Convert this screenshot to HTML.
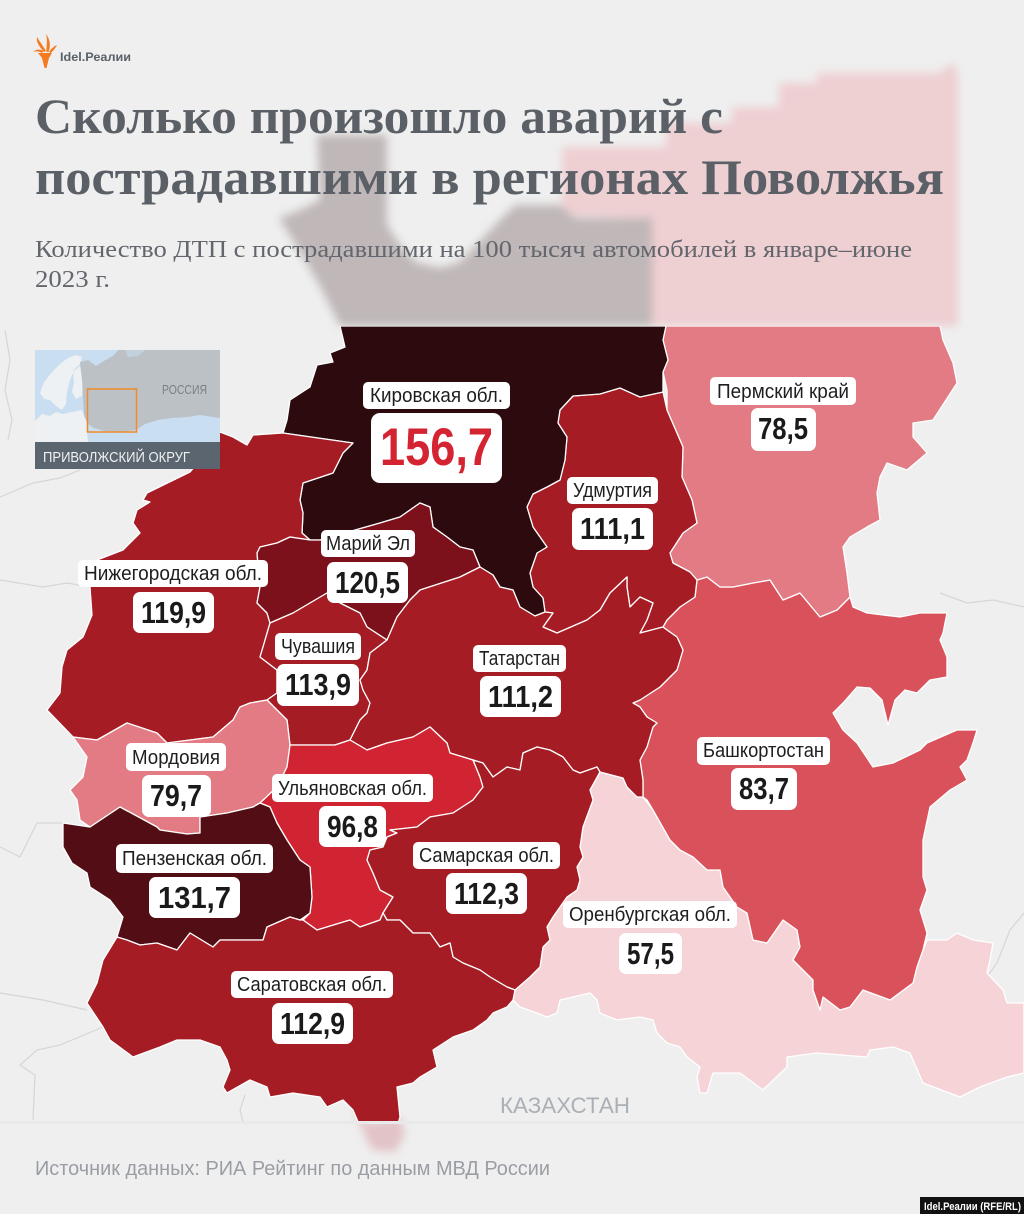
<!DOCTYPE html>
<html><head><meta charset="utf-8">
<style>
html,body{margin:0;padding:0;background:#efefef;}
svg{display:block;}
.nm{font-family:"Liberation Sans","DejaVu Sans",sans-serif;font-size:20px;fill:#1e1e1e;}
.vl{font-family:"Liberation Sans","DejaVu Sans",sans-serif;font-size:31px;font-weight:bold;fill:#1a1a1a;}
</style></head>
<body>
<svg width="1024" height="1214" viewBox="0 0 1024 1214" xmlns="http://www.w3.org/2000/svg">
<defs>
  <filter id="blur" x="-10%" y="-10%" width="120%" height="120%"><feGaussianBlur stdDeviation="4.5"/></filter>
  <clipPath id="mapclip"><rect x="0" y="326" width="1024" height="797"/></clipPath>
  <clipPath id="insetclip"><rect x="35" y="350" width="185" height="92"/></clipPath>
</defs>
<rect x="0" y="0" width="1024" height="1214" fill="#efefef"/>

<!-- ghost shapes top -->
<g filter="url(#blur)">
  <polygon fill="#eecfd2" points="562,147 666,147 666,123 732,123 732,107 779,107 779,83 817,83 817,73 939,73 953,62 958,75 958,326 652,326 652,218 562,215"/>
  <polygon fill="#bfb7b8" points="317,135 387,135 387,225 400,245 415,262 440,268 460,262 500,220 515,205 560,205 575,218 652,218 652,326 340,326 322,290 305,260 279,218 300,210 320,200"/>
  <polygon fill="#e2c3c6" points="353,1110 370,1123 400,1117 405,1135 395,1152 372,1150"/>
</g>

<!-- neighbour borders -->
<g fill="none" stroke="#d6d6d6" stroke-width="1.2">
  <polyline points="5,330 10,360 5,390 12,420 8,440"/>
  <polyline points="0,497 33,483 60,478 80,470"/>
  <polyline points="0,580 43,587 67,583 90,587"/>
  <polyline points="0,847 20,857 37,823 63,823"/>
  <polyline points="0,993 43,1000 87,1010"/>
  <polyline points="33,1120 35,1075 20,1065 37,1050 60,1045 103,1027"/>
  <polyline points="940,593 967,603 993,600 1024,607"/>
  <polyline points="1024,913 1010,930 997,963 987,977"/>
  <polyline points="245,1095 240,1110 243,1122"/>
</g>

<!-- map -->
<g clip-path="url(#mapclip)" stroke="#ffffff" stroke-width="1.3" stroke-linejoin="round">
  <!-- Orenburg -->
  <polygon fill="#f5d3d6" points="600,772 623,778 627,787 637,797 643,797 653,810 670,840 680,850 693,857 707,870 720,870 723,887 737,907 747,913 753,940 767,943 783,920 797,930 800,947 793,960 800,967 813,980 813,990 820,1010 823,997 840,1010 850,1007 863,990 890,1000 913,983 917,967 923,950 927,940 947,940 957,933 973,940 993,943 990,960 987,973 1003,990 1007,1003 1024,1003 1024,1073 1007,1077 980,1087 960,1097 923,1083 910,1053 893,1047 870,1050 867,1057 817,1053 787,1057 787,1067 763,1090 740,1073 713,1073 707,1093 700,1093 697,1077 700,1067 687,1057 680,1047 667,1043 657,1033 653,1020 640,1017 617,1020 600,1013 597,1000 590,993 560,1000 557,1013 547,1017 537,1013 520,1007 513,1000 515,990 530,977 540,967 543,947 550,940 547,927 553,917 567,897 577,890 580,880 577,867 583,857 580,847 583,827 593,800 590,790"/>
  <!-- Bashkortostan -->
  <polygon fill="#d9515a" points="697,580 707,577 720,587 733,587 753,583 770,580 783,600 800,593 820,617 837,610 850,597 853,607 867,613 900,617 920,613 947,613 943,633 940,640 947,657 947,677 930,680 917,693 905,690 895,700 888,725 882,700 870,688 857,687 843,703 833,713 843,730 857,743 873,767 893,763 920,750 927,743 957,730 977,730 973,743 967,760 960,767 967,780 950,790 930,807 923,840 923,877 927,890 920,910 927,933 923,950 917,967 913,983 890,1000 863,990 850,1007 840,1010 823,997 820,1010 813,990 813,980 800,967 793,960 800,947 797,930 783,920 767,943 753,940 747,913 737,907 723,887 720,870 707,870 693,857 680,850 670,840 653,810 647,800 643,797 643,780 640,760 647,747 653,727 657,723 647,717 640,707 633,703 640,700 660,687 677,670 683,650 677,637 667,630 663,627 667,620 680,607 695,597"/>
  <!-- Perm -->
  <polygon fill="#e27b83" points="666,326 940,326 943,340 953,363 957,383 933,420 913,423 913,437 927,453 907,470 887,463 880,477 877,493 880,520 867,527 850,537 843,547 847,573 850,597 837,610 820,617 800,593 783,600 770,580 753,583 733,587 720,587 707,577 697,580 690,572 673,563 670,553 683,533 697,523 692,500 682,477 683,447 667,410 667,390 663,372 668,360 663,340"/>
  <!-- Udmurtia -->
  <polygon fill="#a51c24" points="663,392 667,410 683,447 682,477 692,500 697,523 683,533 670,553 673,563 690,572 697,580 695,597 680,607 667,620 663,627 640,633 647,620 653,603 640,597 630,607 627,587 627,577 610,593 600,610 587,620 557,633 543,627 553,613 545,612 543,598 533,587 530,573 537,553 547,547 533,527 527,507 533,494 547,487 560,480 565,460 567,437 558,423 560,410 573,396 600,394 620,388 640,397"/>
  <!-- Kirov -->
  <polygon fill="#2c0a0d" points="340,326 666,326 663,340 668,360 663,372 663,392 640,397 620,388 600,394 573,396 560,410 558,423 567,437 565,460 560,480 547,487 533,494 527,507 533,527 547,547 537,553 530,573 533,587 543,598 545,612 535,616 520,607 513,590 500,587 493,575 480,567 473,550 460,547 447,537 433,527 430,507 420,503 400,517 380,523 320,540 310,540 302,533 303,513 300,500 303,483 333,473 343,453 353,443 283,433 287,420 290,400 310,387 317,365 333,362 330,353 345,347"/>
  <!-- Nizhny -->
  <polygon fill="#a51c24" points="47,710 60,693 62,667 67,650 83,637 92,615 90,587 97,560 123,550 140,533 133,523 137,510 150,502 143,500 147,493 190,472 205,455 220,432 233,437 247,445 253,435 283,433 353,443 343,453 333,473 303,483 300,500 303,513 302,533 310,540 290,537 277,543 260,547 257,553 260,587 257,603 267,613 270,623 263,647 260,657 277,670 277,693 267,700 250,703 240,707 233,720 213,737 167,743 157,733 127,723 97,740 73,737"/>
  <!-- Mari El -->
  <polygon fill="#7d111b" points="310,540 320,540 380,523 400,517 420,503 430,507 433,527 447,537 460,547 473,550 480,567 460,577 420,590 410,600 397,617 387,640 367,627 360,613 340,603 327,593 310,603 293,613 270,623 267,613 257,603 260,587 257,553 260,547 277,543 290,537"/>
  <!-- Chuvashia -->
  <polygon fill="#a51c24" points="270,623 293,613 310,603 327,593 340,603 360,613 367,627 387,640 370,653 367,670 360,680 363,690 370,703 367,713 360,720 350,740 335,745 310,745 290,745 287,720 267,700 277,693 277,670 260,657 263,647"/>
  <!-- Tatarstan -->
  <polygon fill="#a51c24" points="480,567 493,575 500,587 513,590 520,607 535,616 545,612 553,613 543,627 557,633 587,620 600,610 610,593 627,577 627,587 630,607 640,597 653,603 647,620 640,633 663,627 667,630 677,637 683,650 677,670 660,687 640,700 633,703 640,707 647,717 657,723 653,727 647,747 640,760 643,780 643,797 637,797 627,787 623,778 600,772 597,767 580,773 573,770 563,757 550,750 537,747 523,753 520,770 507,767 493,777 483,763 473,760 450,753 447,743 430,727 413,737 387,743 367,750 350,740 360,720 367,713 370,703 363,690 360,680 367,670 370,653 387,640 397,617 410,600 420,590 460,577"/>
  <!-- Mordovia -->
  <polygon fill="#e27b83" points="73,737 97,740 127,723 157,733 167,743 213,737 233,720 240,707 250,703 267,700 287,720 290,745 287,767 277,787 260,803 253,807 227,813 200,817 200,833 187,834 160,830 157,827 120,807 90,827 80,820 77,800 70,790 83,777 87,757"/>
  <!-- Ulyanovsk -->
  <polygon fill="#d02432" points="290,745 310,745 335,745 350,740 367,750 387,743 413,737 430,727 447,743 450,753 473,760 480,777 483,787 473,800 453,813 430,817 417,827 390,830 397,833 387,837 383,847 370,850 367,860 373,873 380,890 393,897 383,913 380,920 360,927 350,920 340,923 317,930 303,920 310,913 312,897 310,867 300,860 287,840 277,823 270,807 260,803 277,787 287,767"/>
  <!-- Penza -->
  <polygon fill="#530d14" points="63,823 90,827 120,807 157,827 160,830 187,834 200,833 200,817 227,813 253,807 260,803 270,807 277,823 287,840 300,860 310,867 312,897 310,913 300,920 290,917 267,927 263,940 220,940 213,947 190,933 177,950 157,943 140,945 127,940 117,937 123,917 110,900 90,887 87,873 72,863 63,847"/>
  <!-- Samara -->
  <polygon fill="#a51c24" points="473,760 483,763 493,777 507,767 520,770 523,753 537,747 550,750 563,757 573,770 580,773 597,767 600,772 590,790 593,800 583,827 580,847 583,857 577,867 580,880 577,890 567,897 553,917 547,927 550,940 543,947 540,967 530,977 515,990 507,987 490,977 480,970 463,963 453,957 450,943 440,947 430,933 413,933 400,920 387,920 383,913 393,897 380,890 373,873 367,860 370,850 383,847 387,837 397,833 390,830 417,827 430,817 453,813 473,800 483,787 480,777"/>
  <!-- Saratov -->
  <polygon fill="#a51c24" points="117,937 127,940 140,945 157,943 177,950 190,933 213,947 220,940 263,940 267,927 290,917 300,920 303,920 317,930 340,923 350,920 360,927 380,920 383,913 387,920 400,920 413,933 430,933 440,947 450,943 453,957 463,963 480,970 490,977 507,987 515,990 513,1000 507,1007 493,1013 487,1020 473,1030 453,1037 433,1050 437,1067 420,1077 413,1083 397,1087 400,1117 390,1150 370,1150 353,1110 343,1100 327,1107 320,1097 293,1093 270,1097 267,1087 250,1080 227,1093 223,1087 230,1070 227,1060 220,1047 200,1040 177,1040 160,1047 133,1057 110,1040 103,1027 87,1003 97,983 103,960"/>
</g>

<!-- Inset map -->
<g clip-path="url(#insetclip)">
  <rect x="35" y="350" width="185" height="92" fill="#c9def0"/>
  <!-- Europe mainland -->
  <polygon fill="#eef1f3" points="35,421 42,414 50,416 56,412 63,414 72,412 82,410 86,420 88,442 35,442"/>
  <!-- Scandinavia -->
  <polygon fill="#eef1f3" points="40,393 44,382 52,372 60,364 68,358 76,355 82,357 80,364 74,370 70,380 67,392 66,404 62,410 56,406 50,400 44,399"/>
  <!-- Finland -->
  <polygon fill="#eef1f3" points="73,372 80,366 83,380 82,396 76,399 72,392 74,383"/>
  <!-- Russia -->
  <polygon fill="#bcc1c5" points="80,362 88,360 96,366 104,361 110,356 115,352 117,350 220,350 220,418 200,415 188,417 172,418 158,420 145,424 136,430 120,432 104,431 94,428 88,424 84,416 83,398 82,380"/>
  <!-- Barents -->
  <polygon fill="#c9def0" points="100,350 118,350 114,355 106,360 100,358"/>
  <polygon fill="#c3d1dd" points="125,350 145,350 138,356 128,357"/>
  <rect x="87.5" y="389" width="49" height="43" fill="none" stroke="#f08a2a" stroke-width="1.5"/>
  <text x="162" y="394" font-family="Liberation Sans, DejaVu Sans, sans-serif" font-size="12.5" fill="#7b8087" textLength="45" lengthAdjust="spacingAndGlyphs">РОССИЯ</text>
</g>
<rect x="35" y="442" width="185" height="27" fill="#5a6570"/>
<text x="43" y="462" font-family="Liberation Sans, DejaVu Sans, sans-serif" font-size="14.5" fill="#eef0f2" textLength="147" lengthAdjust="spacingAndGlyphs">ПРИВОЛЖСКИЙ ОКРУГ</text>

<!-- Logo -->
<g fill="#f47b20">
  <path d="M38,53 L52,53 L49,58 L46.5,68 L44.5,68 L42,58 Z"/>
  <path d="M44,52 C40,47 36,43 37,37 C40,42 43,46 46,51 Z"/>
  <path d="M46.5,52 C46,46 48,41 46,34 C50,39 51,46 48.5,52 Z"/>
  <path d="M49,52 C51,49 54,46 57,45 C55,49 53,51 50.5,53 Z"/>
  <path d="M42,53 C39,51 36,51 33,52 C36,49 40,49 43.5,51 Z"/>
</g>
<text x="60" y="61" font-family="Liberation Sans, DejaVu Sans, sans-serif" font-size="12" font-weight="bold" fill="#5a6068" textLength="71" lengthAdjust="spacingAndGlyphs">Idel.Реалии</text>

<!-- Title -->
<g font-family="Liberation Serif, DejaVu Serif, serif" fill="#5b6067">
  <text x="35" y="133" font-size="50" font-weight="bold" textLength="688" lengthAdjust="spacingAndGlyphs">Сколько произошло аварий с</text>
  <text x="35" y="194" font-size="50" font-weight="bold" textLength="909" lengthAdjust="spacingAndGlyphs">пострадавшими в регионах Поволжья</text>
  <text x="35" y="257" font-size="24" fill="#63676d" textLength="877" lengthAdjust="spacingAndGlyphs">Количество ДТП с пострадавшими на 100 тысяч автомобилей в январе–июне</text>
  <text x="35" y="287" font-size="24" fill="#63676d" textLength="75" lengthAdjust="spacingAndGlyphs">2023 г.</text>
</g>

<!-- Labels -->
<g>
  <rect x="363" y="382" width="147" height="27" rx="5" fill="#fff"/>
  <text class="nm" x="370" y="402" textLength="133" lengthAdjust="spacingAndGlyphs">Кировская обл.</text>
  <rect x="371" y="413" width="131" height="70" rx="9" fill="#fff"/>
  <text x="380" y="465" font-family="Liberation Sans, DejaVu Sans, sans-serif" font-size="53" font-weight="bold" fill="#d42331" textLength="113" lengthAdjust="spacingAndGlyphs">156,7</text>

  <rect x="710" y="377" width="146" height="28" rx="5" fill="#fff"/>
  <text class="nm" x="717" y="398" textLength="132" lengthAdjust="spacingAndGlyphs">Пермский край</text>
  <rect x="751" y="408" width="65" height="43" rx="7" fill="#fff"/>
  <text class="vl" x="758" y="439" textLength="50" lengthAdjust="spacingAndGlyphs">78,5</text>

  <rect x="567" y="477" width="91" height="27" rx="5" fill="#fff"/>
  <text class="nm" x="573" y="497" textLength="79" lengthAdjust="spacingAndGlyphs">Удмуртия</text>
  <rect x="572" y="508" width="81" height="42" rx="7" fill="#fff"/>
  <text class="vl" x="580" y="539" textLength="65" lengthAdjust="spacingAndGlyphs">111,1</text>

  <rect x="321" y="530" width="94" height="27" rx="5" fill="#fff"/>
  <text class="nm" x="326" y="550" textLength="84" lengthAdjust="spacingAndGlyphs">Марий Эл</text>
  <rect x="327" y="562" width="81" height="41" rx="7" fill="#fff"/>
  <text class="vl" x="335" y="593" textLength="65" lengthAdjust="spacingAndGlyphs">120,5</text>

  <rect x="78" y="560" width="190" height="27" rx="5" fill="#fff"/>
  <text class="nm" x="84" y="580" textLength="178" lengthAdjust="spacingAndGlyphs">Нижегородская обл.</text>
  <rect x="133" y="592" width="81" height="41" rx="7" fill="#fff"/>
  <text class="vl" x="141" y="623" textLength="65" lengthAdjust="spacingAndGlyphs">119,9</text>

  <rect x="275" y="633" width="86" height="27" rx="5" fill="#fff"/>
  <text class="nm" x="281" y="653" textLength="74" lengthAdjust="spacingAndGlyphs">Чувашия</text>
  <rect x="277" y="664" width="82" height="42" rx="7" fill="#fff"/>
  <text class="vl" x="285" y="695" textLength="66" lengthAdjust="spacingAndGlyphs">113,9</text>

  <rect x="473" y="645" width="93" height="27" rx="5" fill="#fff"/>
  <text class="nm" x="479" y="665" textLength="81" lengthAdjust="spacingAndGlyphs">Татарстан</text>
  <rect x="480" y="676" width="81" height="41" rx="7" fill="#fff"/>
  <text class="vl" x="488" y="707" textLength="65" lengthAdjust="spacingAndGlyphs">111,2</text>

  <rect x="697" y="737" width="133" height="28" rx="5" fill="#fff"/>
  <text class="nm" x="703" y="757" textLength="121" lengthAdjust="spacingAndGlyphs">Башкортостан</text>
  <rect x="731" y="768" width="66" height="42" rx="7" fill="#fff"/>
  <text class="vl" x="739" y="799" textLength="50" lengthAdjust="spacingAndGlyphs">83,7</text>

  <rect x="126" y="743" width="100" height="28" rx="5" fill="#fff"/>
  <text class="nm" x="132" y="764" textLength="88" lengthAdjust="spacingAndGlyphs">Мордовия</text>
  <rect x="142" y="775" width="69" height="42" rx="7" fill="#fff"/>
  <text class="vl" x="150" y="806" textLength="52" lengthAdjust="spacingAndGlyphs">79,7</text>

  <rect x="272" y="774" width="161" height="28" rx="5" fill="#fff"/>
  <text class="nm" x="278" y="795" textLength="149" lengthAdjust="spacingAndGlyphs">Ульяновская обл.</text>
  <rect x="319" y="806" width="67" height="41" rx="7" fill="#fff"/>
  <text class="vl" x="327" y="837" textLength="51" lengthAdjust="spacingAndGlyphs">96,8</text>

  <rect x="116" y="844" width="157" height="29" rx="5" fill="#fff"/>
  <text class="nm" x="122" y="865" textLength="145" lengthAdjust="spacingAndGlyphs">Пензенская обл.</text>
  <rect x="149" y="877" width="91" height="41" rx="7" fill="#fff"/>
  <text class="vl" x="158" y="908" textLength="73" lengthAdjust="spacingAndGlyphs">131,7</text>

  <rect x="413" y="842" width="147" height="27" rx="5" fill="#fff"/>
  <text class="nm" x="419" y="862" textLength="135" lengthAdjust="spacingAndGlyphs">Самарская обл.</text>
  <rect x="446" y="873" width="81" height="41" rx="7" fill="#fff"/>
  <text class="vl" x="454" y="904" textLength="65" lengthAdjust="spacingAndGlyphs">112,3</text>

  <rect x="563" y="901" width="174" height="27" rx="5" fill="#fff"/>
  <text class="nm" x="569" y="921" textLength="162" lengthAdjust="spacingAndGlyphs">Оренбургская обл.</text>
  <rect x="619" y="933" width="63" height="41" rx="7" fill="#fff"/>
  <text class="vl" x="627" y="964" textLength="47" lengthAdjust="spacingAndGlyphs">57,5</text>

  <rect x="231" y="971" width="162" height="27" rx="5" fill="#fff"/>
  <text class="nm" x="237" y="991" textLength="150" lengthAdjust="spacingAndGlyphs">Саратовская обл.</text>
  <rect x="272" y="1003" width="81" height="41" rx="7" fill="#fff"/>
  <text class="vl" x="280" y="1034" textLength="65" lengthAdjust="spacingAndGlyphs">112,9</text>
</g>

<!-- Kazakhstan -->
<text x="500" y="1113" font-family="Liberation Sans, DejaVu Sans, sans-serif" font-size="22" fill="#aab0b5" textLength="130" lengthAdjust="spacingAndGlyphs">КАЗАХСТАН</text>

<rect x="0" y="1121" width="1024" height="3" fill="#e9e9e9"/>

<text x="35" y="1175" font-family="Liberation Sans, DejaVu Sans, sans-serif" font-size="20" fill="#9a9ea4" textLength="515" lengthAdjust="spacingAndGlyphs">Источник данных: РИА Рейтинг по данным МВД России</text>

<rect x="920" y="1197" width="104" height="17" fill="#111"/>
<text x="924" y="1210" font-family="Liberation Sans, DejaVu Sans, sans-serif" font-size="11" font-weight="bold" fill="#fff" textLength="97" lengthAdjust="spacingAndGlyphs">Idel.Реалии (RFE/RL)</text>
</svg>
</body></html>
